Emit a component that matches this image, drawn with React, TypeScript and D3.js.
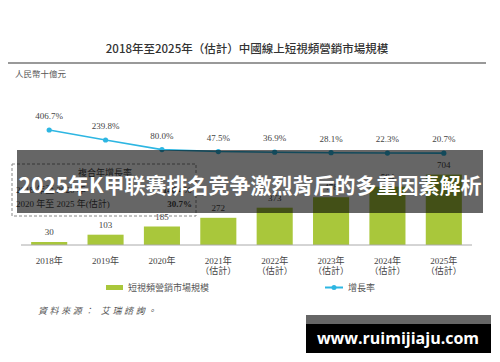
import * as d3 from 'd3';

const years = ['2018年', '2019年', '2020年', '2021年', '2022年', '2023年', '2024年', '2025年'];
const estimated = [false, false, false, true, true, true, true, true];
const marketSize = [30, 103, 185, 272, 373, 478, 584, 704];
const growthRate = [406.7, 239.8, 80.0, 47.5, 36.9, 28.1, 22.3, 20.7];
const cagrRows = [
  { label: '2018 年至 2020 年', value: '148.4%' },
  { label: '2020 年至 2025 年(估計)', value: '30.7%' },
];

const svgWidth = 500;
const svgHeight = 362;

const serif = '"Liberation Serif", "Noto Sans CJK TC", serif';
const sans = '"Noto Sans CJK TC", "Noto Sans", sans-serif';
const barColor = '#a9c73b';
const lineColor = '#2db6e2';

function App() {
  const baseline = 245;

  // x positions shared by bars and line
  const x = d3
    .scaleBand()
    .domain(years)
    .range([21, 472])
    .paddingInner(0.36)
    .paddingOuter(0.18);
  const cx = (d: string) => (x(d) as number) + x.bandwidth() / 2;

  // bar scale (RMB bn)
  const y = d3.scaleLinear().domain([0, 1000]).range([baseline, 145]);

  // growth-rate scale (%)
  const yRate = d3.scaleLinear().domain([0, 500]).range([154.4, 124.4]);

  const line = d3
    .line<number>()
    .x((_, i) => cx(years[i]))
    .y((d) => yRate(d));

  return (
    <svg
      width={svgWidth}
      height={svgHeight}
      style={{ position: 'absolute', left: 0, top: 0, background: '#fff' }}
    >
      {/* title */}
      <text
        x={247}
        y={53}
        textAnchor="middle"
        fontFamily={sans}
        fontSize={11.5}
        fontWeight={500}
        fill="#333"
      >
        2018年至2025年（估計）中國線上短視頻營銷市場規模
      </text>
      <line x1={8} x2={486} y1={63} y2={63} stroke="#999" strokeWidth={2} />
      <text x={15} y={77} fontFamily={serif} fontSize={8.5} fill="#555">
        人民幣十億元
      </text>

      {/* CAGR box */}
      <rect
        x={12}
        y={164}
        width={184}
        height={52}
        fill="none"
        stroke="#888"
        strokeDasharray="3,2"
      />
      <text x={105} y={176} textAnchor="middle" fontFamily={serif} fontSize={9} fill="#444">
        複合年增長率
      </text>
      {cagrRows.map((r, i) => (
        <g key={r.label} fontFamily={serif} fontSize={9} fill="#444">
          <text x={16} y={193 + i * 14}>
            {r.label}
          </text>
          <text x={192} y={193 + i * 14} textAnchor="end" fontWeight="bold">
            {r.value}
          </text>
        </g>
      ))}

      {/* bars */}
      {marketSize.map((v, i) => (
        <g key={years[i]}>
          <rect
            x={x(years[i])}
            y={y(v)}
            width={x.bandwidth()}
            height={baseline - y(v)}
            fill={barColor}
          />
          <text
            x={cx(years[i])}
            y={y(v) - 7}
            textAnchor="middle"
            fontFamily={serif}
            fontSize={9}
            fill="#444"
          >
            {v}
          </text>
        </g>
      ))}
      <line x1={21} x2={472} y1={baseline} y2={baseline} stroke="#aaa" strokeWidth={1} />

      {/* x labels */}
      {years.map((yr, i) => (
        <g key={yr} fontFamily={serif} fontSize={9} fill="#444" textAnchor="middle">
          <text x={cx(yr)} y={264}>
            {yr}
          </text>
          {estimated[i] && (
            <text x={cx(yr)} y={274}>
              （估計）
            </text>
          )}
        </g>
      ))}

      {/* growth line */}
      <path d={line(growthRate) as string} fill="none" stroke={lineColor} strokeWidth={1.6} />
      {growthRate.map((v, i) => (
        <g key={years[i]}>
          <circle cx={cx(years[i])} cy={yRate(v)} r={2.6} fill={lineColor} />
          <text
            x={cx(years[i])}
            y={yRate(v) - 11}
            textAnchor="middle"
            fontFamily={serif}
            fontSize={9}
            fill="#444"
          >
            {v.toFixed(1)}%
          </text>
        </g>
      ))}

      {/* legend */}
      <rect x={106} y={285} width={17} height={5} fill={barColor} />
      <text x={128} y={291} fontFamily={serif} fontSize={9} fill="#555">
        短視頻營銷市場規模
      </text>
      <line x1={325} x2={343} y1={287.5} y2={287.5} stroke={lineColor} strokeWidth={2} />
      <circle cx={334} cy={287.5} r={2.5} fill={lineColor} />
      <text x={348} y={291} fontFamily={serif} fontSize={9} fill="#555">
        增長率
      </text>

      <text
        x={38}
        y={314}
        fontFamily={serif}
        fontSize={9}
        fontStyle="italic"
        letterSpacing={2.6}
        fill="#555"
      >
        資料來源： 艾瑞諮詢。
      </text>

      {/* overlay banner */}
      <rect x={17} y={150} width={466} height={63} fill="rgba(0,0,0,0.6)" />
      <text
        x={250}
        y={184}
        textAnchor="middle"
        dominantBaseline="central"
        fontFamily={sans}
        fontSize={21}
        fontWeight="bold"
        fill="#fff"
      >
        2025年K甲联赛排名竞争激烈背后的多重因素解析
      </text>

      {/* watermark */}
      <rect x={306} y={315} width={185} height={9} fill="rgba(0,0,0,0.6)" />
      <rect x={306} y={324} width={185} height={29} fill="#000" />
      <text
        x={398}
        y={338}
        textAnchor="middle"
        dominantBaseline="central"
        fontFamily='"Open Sans", "DejaVu Sans", sans-serif'
        fontSize={16}
        fontWeight="bold"
        fill="#fff"
      >
        www.ruimijiaju.com
      </text>
    </svg>
  );
}

export default App;
